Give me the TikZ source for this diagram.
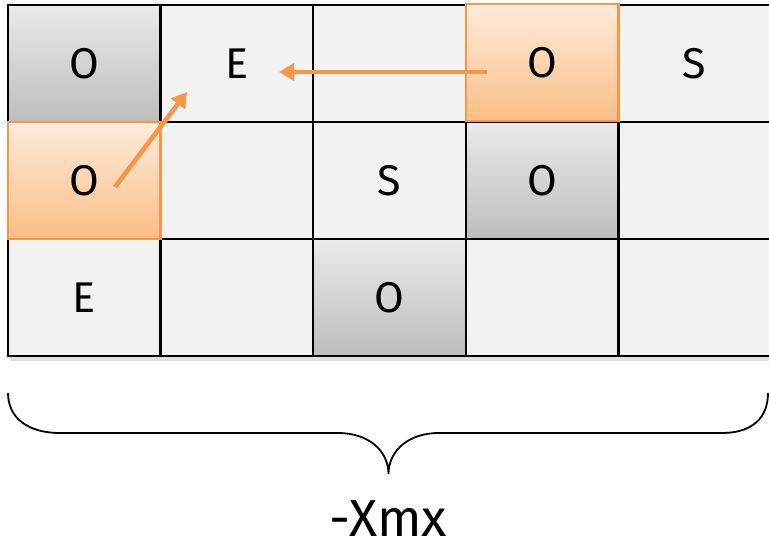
\documentclass[tikz,border=0pt]{standalone}
\usepackage{fontspec}
\setmainfont{Fira Sans}
\usetikzlibrary{arrows.meta}
\definecolor{cellbg}{HTML}{F2F2F2}
\definecolor{graytop}{HTML}{EAEAEA}
\definecolor{graybot}{HTML}{BDBDBD}
\definecolor{orgtop}{HTML}{FDEBDC}
\definecolor{orgbot}{HTML}{FBBE86}
\definecolor{orgline}{HTML}{F79646}
\tikzset{
  cell/.style={draw=black, line width=2.4pt, fill=cellbg, minimum width=152.6pt,
    minimum height=117pt, inner sep=0pt, outer sep=0pt,
    font=\fontsize{43}{50}\selectfont},
  graycell/.style={cell, top color=graytop, bottom color=graybot},
  orgcell/.style={cell, draw=orgline, top color=orgtop, bottom color=orgbot},
  move/.style={draw=orgline, line width=4.6pt,
    -{Triangle[length=15pt,width=17pt]}, shorten >=0pt},
  bracepath/.style={draw=black, line width=1.8pt},
}
\begin{document}
\begin{tikzpicture}[x=1pt,y=-1pt]
  \useasboundingbox (0,0) rectangle (769,546);
  % faint shadow under the grid
  \fill[black!12] (10,357) rectangle (775,361);
  % row 0
  \node[graycell] (c00) at (84.3,63.5)  {O};
  \node[cell]     (c01) at (236.9,63.5) {E};
  \node[cell]     (c02) at (389.5,63.5) {};
  \node[cell]     (c04) at (694.7,63.5) {S};
  % row 1
  \node[cell]     (c11) at (236.9,180.5) {};
  \node[cell]     (c12) at (389.5,180.5) {S};
  \node[graycell] (c13) at (542.1,180.5) {O};
  \node[cell]     (c14) at (694.7,180.5) {};
  % row 2
  \node[cell]     (c20) at (84.3,297.5)  {E};
  \node[cell]     (c21) at (236.9,297.5) {};
  \node[graycell] (c22) at (389.5,297.5) {O};
  \node[cell]     (c23) at (542.1,297.5) {};
  \node[cell]     (c24) at (694.7,297.5) {};
  % highlighted pieces on top of the grid
  \node[orgcell]  (c03) at (542.1,62.5) {O};
  \node[orgcell]  (c10) at (84.3,180.5) {O};
  % move arrows
  \coordinate (fromA) at (487,72);
  \coordinate (toA)   at (279,72);
  \coordinate (fromB) at (115,187);
  \coordinate (toB)   at (187,92);
  \draw[move] (fromA) -- (toA);
  \draw[move] (fromB) -- (toB);
  % brace under the grid
  \coordinate (bl) at (8,393);
  \coordinate (br) at (768,393);
  \coordinate (tip) at (388.5,474);
  \draw[bracepath] (bl) .. controls (8,418) and (28,433) .. (60,433)
    -- (338,433) .. controls (370,433) and (388.5,452) .. (tip)
    .. controls (388.5,452) and (407,433) .. (439,433)
    -- (722,433) .. controls (752,433) and (768,418) .. (br);
  \node[anchor=base, inner sep=0pt, font=\fontsize{52}{58}\selectfont] (lbl) at (388.5,536) {-Xmx};
\end{tikzpicture}
\end{document}
